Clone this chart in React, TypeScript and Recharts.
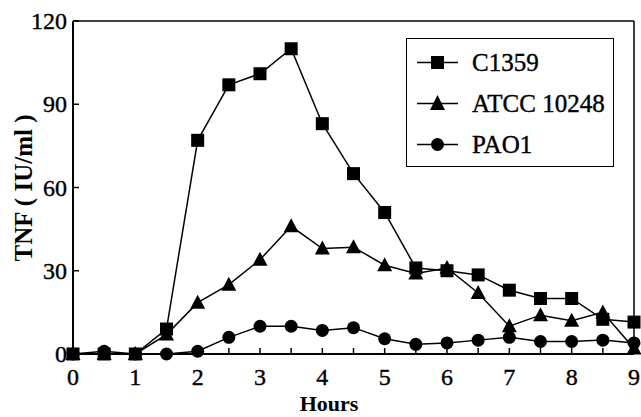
import React from 'react';
import { LineChart, Line, XAxis, YAxis, ReferenceLine, Customized } from 'recharts';

const hours = [0, 0.5, 1, 1.5, 2, 2.5, 3, 3.5, 4, 4.5, 5, 5.5, 6, 6.5, 7, 7.5, 8, 8.5, 9];
const c1359 = [0, 0, 0, 9, 77, 97, 101, 110, 83, 65, 51, 31, 30, 28.5, 23, 20, 20, 12.5, 11.5];
const atcc10248 = [0, 0, 0, 7, 18.5, 25, 34, 46, 38, 38.5, 32, 29, 31, 22, 10, 14, 12, 15, 2];
const pao1 = [0, 1, 0, 0, 1, 6, 10, 10, 8.5, 9.5, 5.5, 3.5, 4, 5, 6, 4.5, 4.5, 5, 4];
const xTicks = [0, 0.5, 1, 1.5, 2, 2.5, 3, 3.5, 4, 4.5, 5, 5.5, 6, 6.5, 7, 7.5, 8, 8.5, 9];
const yTicks = [0, 30, 60, 90, 120];
const seriesNames = ['C1359', 'ATCC 10248', 'PAO1'];

const data = hours.map((h, i) => ({ h, a: c1359[i], b: atcc10248[i], c: pao1[i] }));

const FONT = '"Liberation Serif", "Times New Roman", Times, serif';

const Square = (props: any) => {
  const { cx, cy } = props;
  if (cx == null || cy == null) return null;
  return <rect x={cx - 6.5} y={cy - 6.5} width={13} height={13} fill="#000" />;
};
const Triangle = (props: any) => {
  const { cx, cy } = props;
  if (cx == null || cy == null) return null;
  return <polygon points={`${cx},${cy - 8} ${cx - 7.5},${cy + 6} ${cx + 7.5},${cy + 6}`} fill="#000" />;
};
const Circle = (props: any) => {
  const { cx, cy } = props;
  if (cx == null || cy == null) return null;
  return <circle cx={cx} cy={cy} r={6.5} fill="#000" />;
};

const XTick = (props: any) => {
  const { x, y, payload } = props;
  const v = payload.value;
  const isInt = Math.abs(v - Math.round(v)) < 1e-6;
  return (
    <g>
      <line x1={x} y1={y} x2={x} y2={y - 6} stroke="#000" strokeWidth={1.5} />
      {isInt && (
        <text x={x} y={y + 31} textAnchor="middle" fontFamily={FONT} fontSize={24} fill="#000" stroke="#000" strokeWidth={0.4}>
          {v}
        </text>
      )}
    </g>
  );
};

const YTick = (props: any) => {
  const { x, y, payload } = props;
  return (
    <g>
      <line x1={x} y1={y} x2={x + 6} y2={y} stroke="#000" strokeWidth={1.5} />
      <text x={x - 6} y={y + 8} textAnchor="end" fontFamily={FONT} fontSize={24} fill="#000" stroke="#000" strokeWidth={0.4}>
        {payload.value}
      </text>
    </g>
  );
};

const icons = [
  <rect key="s" x={14} y={4} width={13} height={13} fill="#000" />,
  <polygon key="t" points="20.5,2 13,17 28,17" fill="#000" />,
  <circle key="c" cx={20.5} cy={10.5} r={6.5} fill="#000" />,
];

const LegendBox = () => (
  <div
    style={{
      position: 'absolute',
      left: 406,
      top: 38,
      border: '1.5px solid #000',
      background: '#fff',
      width: 208,
      height: 129,
      boxSizing: 'border-box',
      padding: '3px 0 0 10px',
      fontFamily: FONT,
      fontSize: 25,
      lineHeight: '25px',
      color: '#000',
      WebkitTextStroke: '0.4px #000',
    }}
  >
    {seriesNames.map((n, i) => (
      <div key={n} style={{ display: 'flex', alignItems: 'center', height: 41, whiteSpace: 'nowrap' }}>
        <svg width={42} height={21} style={{ marginRight: 13, display: 'block' }}>
          <line x1={0} y1={10.5} x2={41} y2={10.5} stroke="#000" strokeWidth={1.5} />
          {icons[i]}
        </svg>
        <span>{n}</span>
      </div>
    ))}
  </div>
);

const Titles = () => (
  <g>
    <text x={329} y={411} textAnchor="middle" fontFamily={FONT} fontSize={22} fontWeight="bold" fill="#000">
      Hours
    </text>
    <text
      x={0}
      y={0}
      transform="translate(32,188) rotate(-90)"
      textAnchor="middle"
      fontFamily={FONT}
      fontSize={25}
      fontWeight="bold"
      fill="#000"
    >
      TNF ( IU/ml )
    </text>
  </g>
);

export default function App() {
  return (
    <div style={{ position: 'absolute', left: 0, top: 0, width: 641, height: 417, background: '#fff', overflow: 'visible' }}>
      <LineChart width={641} height={417} data={data} margin={{ top: 21, right: 7, bottom: 23, left: 13 }}>
        <XAxis
          dataKey="h"
          type="number"
          domain={[0, 9]}
          ticks={xTicks}
          interval={0}
          height={40}
          tickSize={0}
          tickMargin={0}
          tick={<XTick />}
          axisLine={{ stroke: '#000', strokeWidth: 2 }}
          tickLine={false}
        />
        <YAxis
          type="number"
          domain={[0, 120]}
          ticks={yTicks}
          interval={0}
          width={60}
          tickSize={0}
          tickMargin={0}
          tick={<YTick />}
          axisLine={{ stroke: '#000', strokeWidth: 2 }}
          tickLine={false}
        />
        <ReferenceLine y={120} stroke="#000" strokeWidth={1.5} />
        <ReferenceLine x={9} stroke="#000" strokeWidth={1.5} />
        <Line dataKey="c" stroke="#000" strokeWidth={1.5} dot={<Circle />} isAnimationActive={false} />
        <Line dataKey="b" stroke="#000" strokeWidth={1.5} dot={<Triangle />} isAnimationActive={false} />
        <Line dataKey="a" stroke="#000" strokeWidth={1.5} dot={<Square />} isAnimationActive={false} />
        <Customized component={Titles} />
      </LineChart>
      <LegendBox />
    </div>
  );
}
